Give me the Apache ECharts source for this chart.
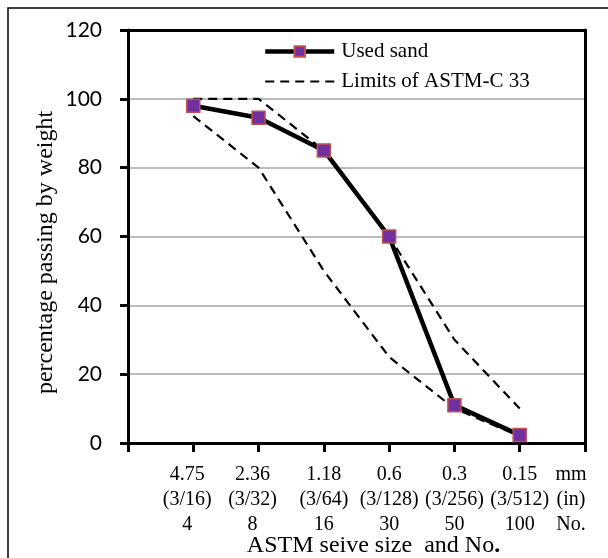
<!DOCTYPE html>
<html>
<head>
<meta charset="utf-8">
<script src="https://cdn.jsdelivr.net/npm/echarts@6/dist/echarts.min.js"></script>
<style>
  html, body { margin: 0; padding: 0; background: #fff; }
  #chart { width: 608px; height: 558px; }
</style>
</head>
<body>
<div id="chart"></div>
<script>
// Axis categories (the first slot is empty, the last holds the unit column)
const sizeMm   = ['', '4.75', '2.36', '1.18', '0.6', '0.3', '0.15', 'mm'];
const sizeIn   = ['', '(3/16)', '(3/32)', '(3/64)', '(3/128)', '(3/256)', '(3/512)', '(in)'];
const sieveNo  = ['', '4', '8', '16', '30', '50', '100', 'No.'];

// Sieves that carry data
const sieves = ['4.75', '2.36', '1.18', '0.6', '0.3', '0.15'];

// Percentage passing
const usedSand   = [98, 94.5, 85, 60, 11, 2.3];
const upperLimit = [100, 100, 85, 60, 30, 10];
const lowerLimit = [95, 80, 50, 25, 10, 2];

const yTicks = { min: 0, max: 120, interval: 20 };

const chart = echarts.init(document.getElementById('chart'), null, { renderer: 'canvas' });

const serif = 'Liberation Serif';
const frameLine = { show: true, onZero: false, lineStyle: { color: '#000', width: 3 } };

const option = {
  animation: false,
  backgroundColor: '#fff',
  graphic: [{
    type: 'rect',
    shape: { x: 8, y: 8, width: 800, height: 800 },
    style: { fill: 'none', stroke: '#000', lineWidth: 1.5 },
    silent: true
  }],
  grid: {
    left: 128, right: 23, top: 30, bottom: 115,
    outerBoundsMode: 'none',
    containLabel: false
  },
  legend: {
    orient: 'vertical',
    left: 263, top: 41,
    padding: 0,
    itemGap: 9,
    itemWidth: 69, itemHeight: 13,
    data: [
      { name: 'Used sand', lineStyle: { width: 4.5, color: '#000' } },
      { name: 'Limits of ASTM-C 33', lineStyle: { width: 2.2, color: '#000', type: [9, 6] }, itemStyle: { opacity: 0 } }
    ],
    textStyle: { fontFamily: serif, fontSize: 21, color: '#000', padding: [0, 0, 0, 2] }
  },
  xAxis: [{
    type: 'category',
    data: sizeMm,
    boundaryGap: false,
    axisLine: frameLine,
    axisTick: { length: 9, interval: 0, lineStyle: { color: '#000', width: 3 } },
    splitLine: { show: false },
    axisLabel: {
      interval: 0,
      margin: 19,
      formatter: function (v, i) {
        const txt = sizeMm[i] + '\n' + sizeIn[i] + '\n' + sieveNo[i];
        if (i === 0) return '';
        if (i === sizeMm.length - 1) return '{u|' + txt + '}';
        if (i <= 2) return '{s|' + txt + '}';
        return '{n|' + txt + '}';
      },
      rich: {
        n: { fontFamily: serif, fontSize: 20, lineHeight: 25, color: '#000' },
        s: { fontFamily: serif, fontSize: 20, lineHeight: 25, color: '#000', padding: [0, 12, 0, 0] },
        u: { fontFamily: serif, fontSize: 20, lineHeight: 25, color: '#000', padding: [0, 28, 0, 0] }
      }
    },
    name: '{t|ASTM seive size  and No}{b|.}',
    nameLocation: 'middle',
    nameMoveOverlap: false,
    nameGap: 90,
    nameTextStyle: {
      padding: [0, 0, 0, 34],
      rich: {
        t: { fontFamily: serif, fontSize: 24, lineHeight: 26, color: '#000' },
        b: { fontFamily: serif, fontSize: 24, lineHeight: 26, fontWeight: 'bold', color: '#000' }
      }
    }
  }, {
    type: 'category',
    data: sizeMm,
    boundaryGap: false,
    position: 'top',
    axisLine: frameLine,
    axisTick: { show: false },
    axisLabel: { show: false },
    splitLine: { show: false }
  }],
  yAxis: [{
    type: 'value',
    min: yTicks.min, max: yTicks.max, interval: yTicks.interval,
    axisLine: frameLine,
    axisTick: { show: true, length: 8, lineStyle: { color: '#000', width: 3 } },
    splitLine: { show: true, showMinLine: false, showMaxLine: false, lineStyle: { color: '#a6a6a6', width: 1.5 } },
    axisLabel: { fontFamily: 'Lato', fontSize: 21, color: '#000', margin: 26 },
    name: 'percentage passing by weight',
    nameLocation: 'middle',
    nameMoveOverlap: false,
    nameGap: 70,
    nameTextStyle: { fontFamily: serif, fontSize: 24, color: '#000', padding: [0, 32, 0, 0] }
  }, {
    type: 'value',
    min: yTicks.min, max: yTicks.max, interval: yTicks.interval,
    position: 'right',
    axisLine: frameLine,
    axisTick: { show: false },
    axisLabel: { show: false },
    splitLine: { show: false }
  }],
  series: [
    {
      name: 'Limits of ASTM-C 33',
      type: 'line',
      data: sieves.map((s, i) => [s, upperLimit[i]]),
      symbol: 'none',
      lineStyle: { color: '#000', width: 2.2, type: [9, 6] },
      itemStyle: { color: '#000' },
      z: 2
    },
    {
      name: 'Limits of ASTM-C 33',
      type: 'line',
      data: sieves.map((s, i) => [s, lowerLimit[i]]),
      symbol: 'none',
      lineStyle: { color: '#000', width: 2.2, type: [9, 6] },
      itemStyle: { color: '#000' },
      z: 2
    },
    {
      name: 'Used sand',
      type: 'line',
      data: sieves.map((s, i) => [s, usedSand[i]]),
      symbol: 'rect',
      symbolSize: 13,
      lineStyle: { color: '#000', width: 4.5 },
      itemStyle: { color: '#7030A0', borderColor: '#C0504D', borderWidth: 1.5 },
      z: 3
    }
  ]
};

chart.setOption(option);
</script>
</body>
</html>
